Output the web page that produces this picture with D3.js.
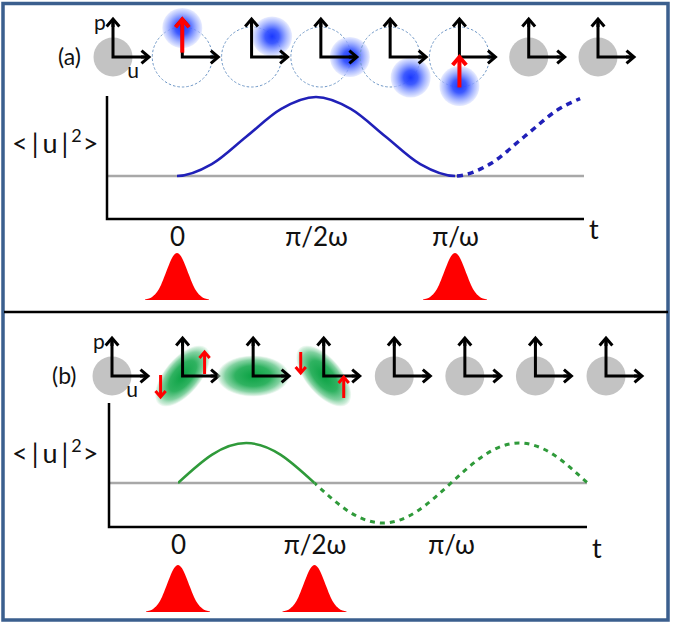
<!DOCTYPE html>
<html>
<head>
<meta charset="utf-8">
<script src="https://cdn.jsdelivr.net/npm/d3@7"></script>
<style>
  body { margin: 0; background: #fff; }
  svg { display: block; }
  text { font-family: Lato, "Noto Sans", "DejaVu Sans", sans-serif; fill: #111; }
</style>
</head>
<body>
<svg id="fig"></svg>
<script>
// time is counted in units of pi/(2 omega)
const tickT = [0, 1, 2];
const tickLabels = ["0", "π/2ω", "π/ω"];

// (a) <|u|^2> above the ground level, 1 = top of the swing
const tA = [-0.25, 0, 0.25, 0.5, 0.75, 1, 1.25, 1.5, 1.75, 2, 2.25, 2.5, 2.75, 2.9];
const uA = [0, 0, 0.15, 0.5, 0.85, 1, 0.85, 0.5, 0.15, 0, 0.15, 0.5, 0.85, 0.98];
const solidEndA = 2;   // dashed after this
const pulsesA = [0, 2];

// (b)
const tB = [0, 0.25, 0.5, 0.75, 1, 1.25, 1.5, 1.75, 2, 2.25, 2.5, 2.75, 3];
const uB = [0, 0.71, 1, 0.71, 0, -0.71, -1, -0.71, 0, 0.71, 1, 0.71, 0];
const solidEndB = 1;
const pulsesB = [0, 1];

// pump pulse shape, offset from the centre in half-widths
const pulseX = [-1, -0.875, -0.75, -0.625, -0.5, -0.375, -0.25, -0.125, 0,
                0.125, 0.25, 0.375, 0.5, 0.625, 0.75, 0.875, 1];
const pulseY = [0.01, 0.03, 0.08, 0.17, 0.32, 0.53, 0.75, 0.93, 1,
                0.93, 0.75, 0.53, 0.32, 0.17, 0.08, 0.03, 0.01];

// phase space snapshots
const stateA = ["vac", "coh", "coh", "coh", "coh", "coh", "vac", "vac"];
const phaseA = [null, 90, 45, 0, -45, -90, null, null];            // degrees
const kickA = [null, [0.15, 1.3], null, null, null, [-1.05, 0], null, null];

const stateB = ["vac", "sq", "sq", "sq", "vac", "vac", "vac", "vac"];
const tiltB = [null, 50, 0, -50, null, null, null, null];          // major axis, degrees
const forceB = [null, "out", null, "in", null, null, null, null];

const W = 673, H = 624;
const svg = d3.select("#fig").attr("width", W).attr("height", H);
const defs = svg.append("defs");

function radial(id, stops) {
  const g = defs.append("radialGradient").attr("id", id);
  stops.forEach(s => g.append("stop")
    .attr("offset", s[0]).attr("stop-color", s[1]).attr("stop-opacity", s[2]));
}
radial("blob", [[0, "#1a38ff", 1], [0.35, "#3452ff", 0.95], [0.65, "#8297ff", 0.85],
                [0.88, "#b6c3ff", 0.7], [1, "#ccd5ff", 0.45]]);
radial("squeeze", [[0, "#0aa243", 1], [0.5, "#24ae58", 0.95], [0.78, "#6cc990", 0.85],
                   [0.93, "#ade0c0", 0.6], [1, "#d6f0df", 0.25]]);

// frame
svg.append("rect")
  .attr("x", 3).attr("y", 3.5).attr("width", 665).attr("height", 616.5)
  .attr("fill", "none").attr("stroke", "#3b5f8e").attr("stroke-width", 3.5);
svg.append("line")
  .attr("x1", 4).attr("x2", 668).attr("y1", 312).attr("y2", 312)
  .attr("stroke", "#000").attr("stroke-width", 2.5);

function arrow(g, x1, y1, x2, y2, color, w, h) {
  const len = Math.hypot(x2 - x1, y2 - y1);
  const dx = (x2 - x1) / len, dy = (y2 - y1) / len;
  g.append("line")
    .attr("x1", x1).attr("y1", y1)
    .attr("x2", x2 - dx * w * 0.5).attr("y2", y2 - dy * w * 0.5)
    .attr("stroke", color).attr("stroke-width", w);
  const bx = x2 - dx * h, by = y2 - dy * h;
  g.append("path")
    .attr("d", `M${bx - dy * h * 0.85},${by + dx * h * 0.85}L${x2},${y2}L${bx + dy * h * 0.85},${by - dx * h * 0.85}`)
    .attr("fill", "none").attr("stroke", color).attr("stroke-width", w)
    .attr("stroke-linejoin", "miter");
}

function axesGlyph(g, ox, oy) {
  g.append("path")
    .attr("d", `M${ox},${oy - 37}L${ox},${oy}L${ox + 34},${oy}`)
    .attr("fill", "none").attr("stroke", "#000").attr("stroke-width", 3)
    .attr("stroke-linejoin", "miter");
  arrow(g, ox, oy - 30, ox, oy - 38, "#000", 3, 7.5);
  arrow(g, ox + 28, oy, ox + 36, oy, "#000", 3, 7.5);
}

function glyphRow(cfg) {
  const gx = d3.scaleLinear().domain([0, cfg.state.length - 1]).range(cfg.xRange);
  const oy = cfg.y;
  const row = svg.append("g");
  cfg.state.forEach((s, i) => {
    const g = row.append("g");
    const ox = gx(i);
    if (s === "vac") {
      g.append("circle").attr("cx", ox).attr("cy", oy).attr("r", 19.5).attr("fill", "#c3c3c3");
    } else if (s === "coh") {
      const R = 29, a = cfg.phase[i] * Math.PI / 180;
      g.append("circle").attr("cx", ox).attr("cy", oy).attr("r", 30)
        .attr("fill", "none").attr("stroke", "#6d96c6").attr("stroke-width", 1)
        .attr("stroke-dasharray", "2.5,2");
      g.append("circle").attr("cx", ox + R * Math.cos(a)).attr("cy", oy - R * Math.sin(a))
        .attr("r", 20).attr("fill", "url(#blob)");
    } else if (s === "sq") {
      const tilt = cfg.tilt[i];
      g.append("ellipse").attr("cx", ox).attr("cy", oy)
        .attr("rx", tilt === 0 ? 36 : 37).attr("ry", tilt === 0 ? 20.5 : 18)
        .attr("transform", `rotate(${-tilt},${ox},${oy})`)
        .attr("fill", "url(#squeeze)");
    }
    axesGlyph(g, ox, oy);
    if (cfg.kick && cfg.kick[i]) {
      const R = 29, k = cfg.kick[i];
      arrow(g, ox, oy - k[0] * R, ox, oy - k[1] * R, "#ff0000", 4, 8);
    }
    if (cfg.force && cfg.force[i]) {
      if (cfg.force[i] === "out") {
        arrow(g, ox - 22, oy - 1, ox - 22, oy + 21, "#ff0000", 3, 6);
        arrow(g, ox + 22, oy - 2, ox + 22, oy - 24, "#ff0000", 3, 6);
      } else {
        arrow(g, ox - 23, oy - 24, ox - 23, oy - 3, "#ff0000", 3, 6);
        arrow(g, ox + 20, oy + 22, ox + 20, oy + 1, "#ff0000", 3, 6);
      }
    }
    if (i === 0) {
      g.append("text").attr("x", ox - 13).attr("y", oy - 27)
        .attr("text-anchor", "middle").attr("font-size", 21).text("p");
      g.append("text").attr("x", ox + 20).attr("y", oy + 21)
        .attr("text-anchor", "middle").attr("font-size", 21).text("u");
    }
  });
  svg.append("text").attr("x", cfg.labelX).attr("y", oy + 8)
    .attr("font-size", 23).text(cfg.label);
}

function plot(cfg) {
  const x = d3.scaleLinear().domain([0, 2]).range(cfg.xRange);
  const y = d3.scaleLinear().domain([0, 1]).range(cfg.yRange);
  const g = svg.append("g");

  // ground level
  g.append("line")
    .attr("x1", cfg.left).attr("x2", cfg.right)
    .attr("y1", y(0)).attr("y2", y(0))
    .attr("stroke", "#a8a8a8").attr("stroke-width", 2.5);

  const pts = cfg.t.map((t, i) => [t, cfg.u[i]]);
  const line = d3.line().x(d => x(d[0])).y(d => y(d[1])).curve(cfg.curve);

  const cs = "clip-solid-" + cfg.id, cd = "clip-dash-" + cfg.id;
  defs.append("clipPath").attr("id", cs).append("rect")
    .attr("x", x(0)).attr("y", 0).attr("width", x(cfg.solidEnd) - x(0)).attr("height", H);
  defs.append("clipPath").attr("id", cd).append("rect")
    .attr("x", x(cfg.solidEnd)).attr("y", 0).attr("width", W - x(cfg.solidEnd)).attr("height", H);

  g.append("path").datum(pts).attr("d", line)
    .attr("clip-path", `url(#${cs})`)
    .attr("fill", "none").attr("stroke", cfg.color).attr("stroke-width", 2.5);
  g.append("path").datum(pts).attr("d", line)
    .attr("clip-path", `url(#${cd})`)
    .attr("fill", "none").attr("stroke", cfg.color).attr("stroke-width", cfg.dashWidth)
    .attr("stroke-dasharray", cfg.dash);

  // axes frame
  g.append("path")
    .attr("d", `M${cfg.left},${cfg.top}V${cfg.bottom}H${cfg.right}`)
    .attr("fill", "none").attr("stroke", "#000").attr("stroke-width", 2.5)
    .attr("stroke-linejoin", "miter");

  const ax = g.append("g")
    .attr("transform", `translate(0,${cfg.bottom})`)
    .call(d3.axisBottom(x).tickValues(tickT).tickFormat((d, i) => tickLabels[i])
      .tickSize(0).tickPadding(9));
  ax.select(".domain").remove();
  ax.attr("font-family", null).attr("font-size", null);
  ax.selectAll("text").attr("font-size", 26).attr("fill", "#111");

  g.append("text").attr("x", cfg.right + 5).attr("y", cfg.tY)
    .attr("font-size", 27).text("t");

  // <|u|^2>
  const lab = g.append("text").attr("x", 12).attr("y", cfg.labelY).attr("font-size", 27);
  lab.append("tspan").text("<");
  lab.append("tspan").attr("dx", 4).text("|");
  lab.append("tspan").attr("dx", 4).text("u");
  lab.append("tspan").attr("dx", 4).text("|");
  lab.append("tspan").attr("dx", 3).attr("dy", -11).attr("font-size", 18).text("2");
  lab.append("tspan").attr("dx", 1).attr("dy", 11).text(">");

  // pump pulses
  const px = d3.scaleLinear().domain([-1, 1]).range([-32, 32]);
  const py = d3.scaleLinear().domain([0, 1]).range([cfg.pulseBase, cfg.pulseBase - 47]);
  const prof = pulseX.map((v, i) => [v, pulseY[i]]);
  cfg.pulses.forEach(t => {
    const area = d3.area()
      .x(d => x(t) + px(d[0]))
      .y0(py(0)).y1(d => py(d[1]))
      .curve(d3.curveMonotoneX);
    g.append("path").datum(prof).attr("d", area).attr("fill", "#ff0000");
  });
}

glyphRow({ state: stateA, phase: phaseA, kick: kickA, xRange: [113, 598], y: 57, label: "(a)", labelX: 58 });
glyphRow({ state: stateB, tilt: tiltB, force: forceB, xRange: [112, 606], y: 376, label: "(b)", labelX: 52 });

plot({
  id: "a", t: tA, u: uA, solidEnd: solidEndA, pulses: pulsesA,
  xRange: [177, 455], yRange: [176, 97],
  left: 107, right: 584, top: 96, bottom: 219,
  color: "#2020b8", dash: "6,5", dashWidth: 3.5, curve: d3.curveMonotoneX,
  tY: 239, labelY: 153, pulseBase: 300
});
plot({
  id: "b", t: tB, u: uB, solidEnd: solidEndB, pulses: pulsesB,
  xRange: [178, 451], yRange: [483, 443],
  left: 109, right: 587, top: 403, bottom: 527,
  color: "#2f9a3a", dash: "5,5", dashWidth: 3, curve: d3.curveNatural,
  tY: 558, labelY: 463, pulseBase: 612
});
</script>
</body>
</html>
